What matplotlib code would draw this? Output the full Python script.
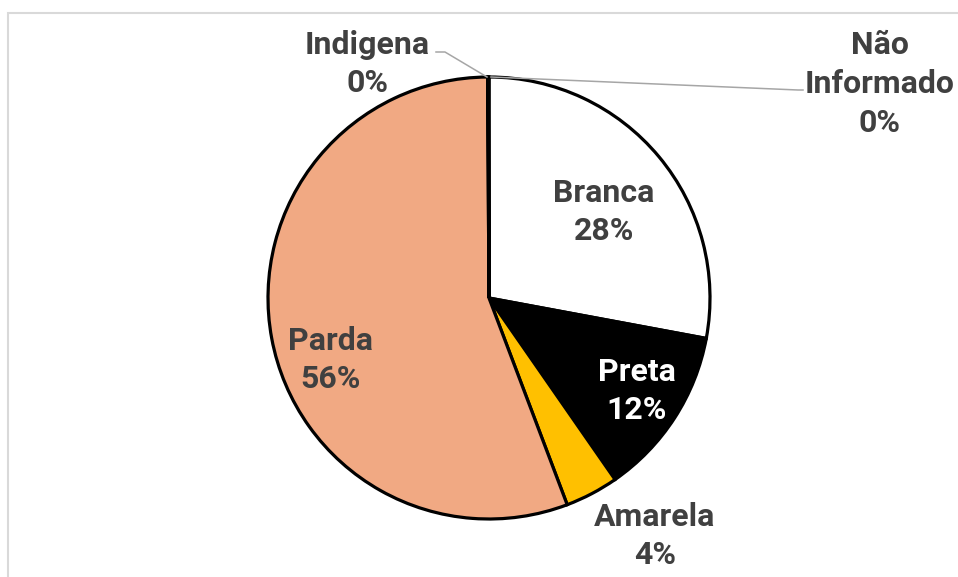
import matplotlib
matplotlib.use("Agg")
import matplotlib.pyplot as plt
from matplotlib.patches import Rectangle

categories = ["Branca", "Preta", "Amarela", "Parda", "Indigena", "Não\nInformado"]
values = [27.9, 12.4, 3.9, 55.6, 0.05, 0.05]
colors = ["#FFFFFF", "#000000", "#FFC000", "#F1A983", "#F1A983", "#FFFFFF"]
text_colors = ["#404040", "#FFFFFF", "#404040", "#404040", "#404040", "#404040"]

W, H = 958, 577
fig = plt.figure(figsize=(W / 100, H / 100), dpi=100)
fig.patch.set_facecolor("white")

# chart frame (cut off at right/bottom)
fig.patches.append(Rectangle((8 / W, -0.1), 1.2, (H - 13) / H + 0.1, transform=fig.transFigure,
                             fill=False, edgecolor="#D9D9D9", linewidth=1.5))

cx, cy, r = 489, 298, 221
ax = fig.add_axes([(cx - r) / W, (H - cy - r) / H, 2 * r / W, 2 * r / H])
ax.pie(values, colors=colors, startangle=90, counterclock=False, radius=1,
       wedgeprops=dict(edgecolor="black", linewidth=2.3))
ax.set_xlim(-1, 1)
ax.set_ylim(-1, 1)
ax.set_aspect("auto")
ax.axis("off")

def d(px, py):
    return (px - cx) / r, (cy - py) / r

total = sum(values)
label_px = [(604, 212), (637, 391), (655, 536), (330, 360), (367, 64), (880, 84)]
for cat, v, (px, py), tc in zip(categories, values, label_px, text_colors):
    x, y = d(px, py)
    ax.text(x, y, f"{cat}\n{round(v / total * 100):.0f}%", ha="center", va="center",
            fontsize=23, fontweight="bold", color=tc, family="Roboto",
            linespacing=1.36, clip_on=False)

# leader lines
lx, ly = zip(*[d(436, 52), d(445, 52), d(487, 77)])
ax.plot(lx, ly, color="#A6A6A6", lw=1.1, clip_on=False)
lx, ly = zip(*[d(803, 90), d(798, 90), d(491, 77)])
ax.plot(lx, ly, color="#A6A6A6", lw=1.1, clip_on=False)

fig.savefig("out.png", dpi=100)
